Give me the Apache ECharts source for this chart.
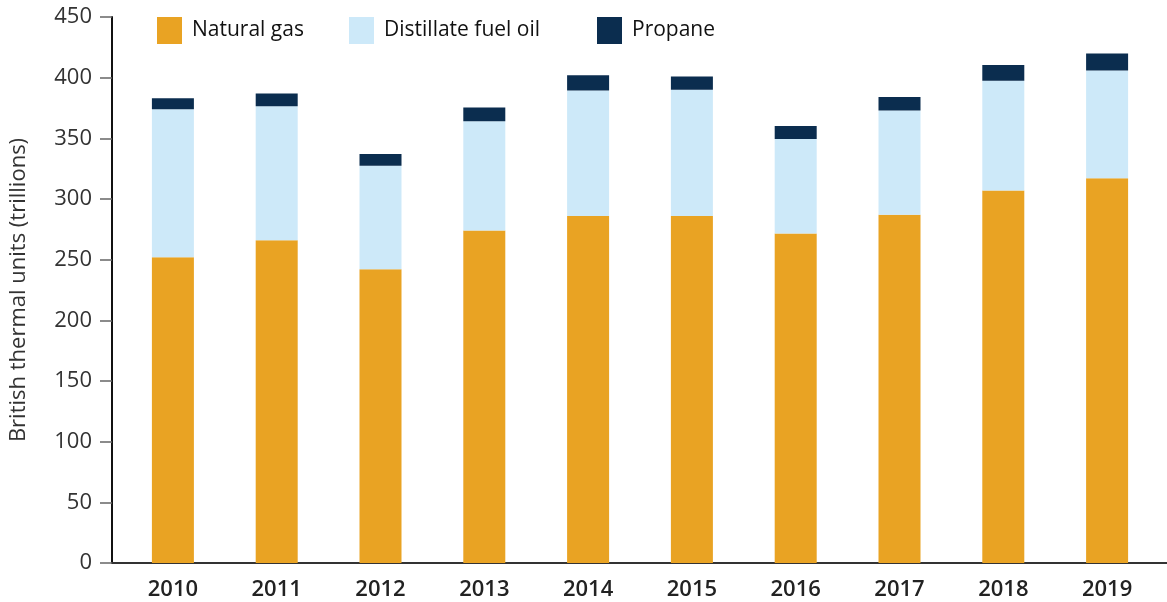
<!DOCTYPE html>
<html>
<head>
<meta charset="utf-8">
<script src="https://cdn.jsdelivr.net/npm/echarts@6/dist/echarts.min.js"></script>
<style>
  html, body { margin: 0; padding: 0; background: #fff; }
  #chart { width: 1167px; height: 602px; }
</style>
</head>
<body>
<div id="chart"></div>
<script>
// data (trillion Btu)
var years = ['2010', '2011', '2012', '2013', '2014', '2015', '2016', '2017', '2018', '2019'];
var naturalGas = [252, 266, 242, 274, 286, 286, 271.5, 287, 307, 317];
var distillate = [122, 110.5, 85.5, 90, 103.5, 104, 78, 86, 90.5, 89];
var propane = [9, 10.5, 9.5, 11.5, 12.5, 11, 10.7, 11, 13, 14];
var yTicks = [0, 50, 100, 150, 200, 250, 300, 350, 400, 450];

var font = '"Open Sans", Roboto, sans-serif';

var chart = echarts.init(document.getElementById('chart'));

function legendAt(left, name) {
  return {
    left: left, top: 17, padding: 0,
    itemWidth: 25, itemHeight: 27, itemGap: 0,
    icon: 'rect', selectedMode: false,
    textStyle: { fontSize: 21, color: '#111', fontFamily: font, padding: [4, 0, 0, 5] },
    data: [name]
  };
}

var option = {
  animation: false,
  textStyle: { fontFamily: font },
  legend: [
    legendAt(157, 'Natural gas'),
    legendAt(349, 'Distillate fuel oil'),
    legendAt(597, 'Propane')
  ],
  // grid 0 carries the axis lines (runs the full width), grid 1 holds the bars
  grid: [
    { left: 107, right: 0, top: 17, bottom: 39 },
    { left: 121, right: 8, top: 17, bottom: 39 }
  ],
  xAxis: [
    {
      gridIndex: 0, type: 'value', min: 0, max: 1,
      splitLine: { show: false },
      axisLine: { show: true, onZero: false, lineStyle: { color: '#333', width: 2 } },
      axisTick: { show: false },
      axisLabel: { show: false }
    },
    {
      gridIndex: 1, type: 'category', data: years,
      axisLine: { show: false },
      axisTick: { show: false },
      axisLabel: { fontSize: 22, fontWeight: 600, color: '#222', margin: 16, fontFamily: font }
    }
  ],
  yAxis: [
    {
      gridIndex: 0, type: 'value', min: 0, max: 450, interval: 50,
      name: 'British thermal units (trillions)',
      nameLocation: 'middle',
      nameRotate: 90,
      nameGap: 82,
      nameTextStyle: { fontSize: 22, color: '#333', fontFamily: font },
      splitLine: { show: false },
      axisLine: { show: true, lineStyle: { color: '#111', width: 2 } },
      axisTick: { show: true, length: 12, lineStyle: { color: '#666', width: 1.5 } },
      axisLabel: { customValues: yTicks, fontSize: 22, color: '#333', margin: 20, fontFamily: font }
    },
    {
      gridIndex: 1, type: 'value', min: 0, max: 450, show: false
    }
  ],
  series: [
    { name: 'Natural gas', type: 'bar', stack: 'total', barWidth: 42,
      xAxisIndex: 1, yAxisIndex: 1,
      itemStyle: { color: '#E9A323' }, data: naturalGas },
    { name: 'Distillate fuel oil', type: 'bar', stack: 'total', barWidth: 42,
      xAxisIndex: 1, yAxisIndex: 1,
      itemStyle: { color: '#CDE9F9' }, data: distillate },
    { name: 'Propane', type: 'bar', stack: 'total', barWidth: 42,
      xAxisIndex: 1, yAxisIndex: 1,
      itemStyle: { color: '#0B2D4F' }, data: propane }
  ]
};

chart.setOption(option);
</script>
</body>
</html>
